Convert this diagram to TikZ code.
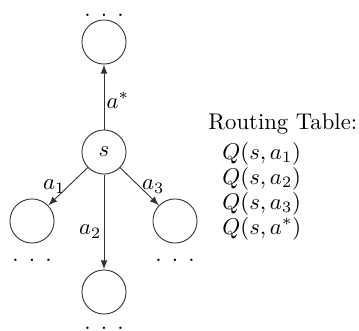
\documentclass[tikz,border=0pt]{standalone}
\usepackage{amsmath}
\usepackage{tikz}

\tikzset{
  state/.style={draw=black!80, circle, minimum size=19.4pt, inner sep=0pt},
  act/.style={->, draw=black!80},
  lbl/.style={inner sep=1pt},
  row/.style={anchor=base west, inner sep=0pt}
}

\begin{document}
\begin{tikzpicture}[x=0.44pt, y=-0.44pt, >=latex]
  \useasboundingbox (0,0) rectangle (359,330);
  % Current state and successors
  \node[state] (s) at (104,152) {$s$};
  \node[state] (up) at (104,42) {};
  \node[state] (left) at (32,221) {};
  \node[state] (down) at (104,292) {};
  \node[state] (right) at (175,221) {};
  % Continuation dots
  \node[anchor=base, inner sep=0pt] (upDots) at (104,16) {. . .};
  \node[anchor=base, inner sep=0pt] (leftDots) at (32,261) {. . .};
  \node[anchor=base, inner sep=0pt] (rightDots) at (175,261) {. . .};
  \node[anchor=base, inner sep=0pt] (downDots) at (104,329) {. . .};
  % Actions
  \draw[act] (s) -- node[lbl, right, pos=0.45] {$a^*$} (up);
  \draw[act] (s) -- node[lbl, left] {$a_1$} (left);
  \draw[act] (s) -- node[lbl, left, pos=0.6] {$a_2$} (down);
  \draw[act] (s) -- node[lbl, right] {$a_3$} (right);
  % Routing table
  \node[row] (title) at (208,129) {Routing Table:};
  \node[row] (q1) at (222,159) {$Q(s,a_1)$};
  \node[row] (q2) at (222,184) {$Q(s,a_2)$};
  \node[row] (q3) at (222,209) {$Q(s,a_3)$};
  \node[row] (q4) at (222,234) {$Q(s,a^*)$};
\end{tikzpicture}
\end{document}
